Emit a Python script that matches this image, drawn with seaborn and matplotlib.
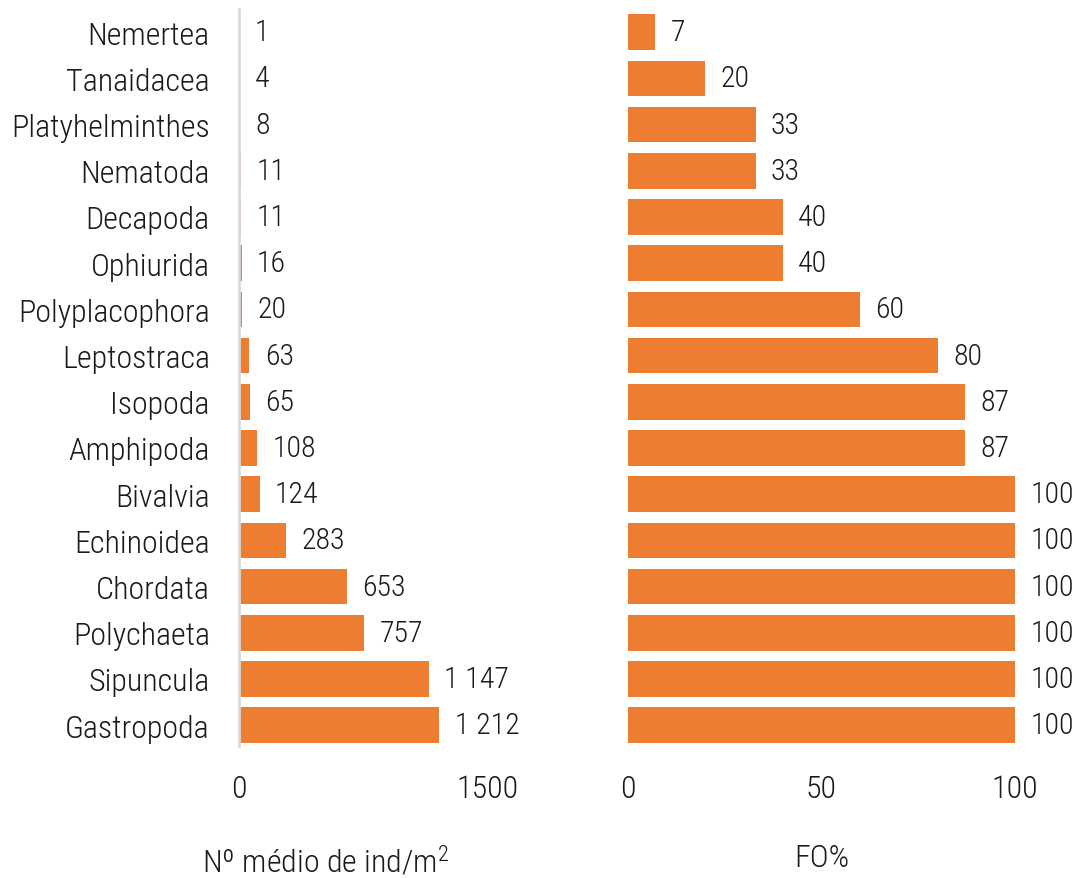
import matplotlib
matplotlib.use("Agg")
import matplotlib.pyplot as plt
import seaborn as sns
import pandas as pd

taxa = ["Nemertea", "Tanaidacea", "Platyhelminthes", "Nematoda", "Decapoda",
        "Ophiurida", "Polyplacophora", "Leptostraca", "Isopoda", "Amphipoda",
        "Bivalvia", "Echinoidea", "Chordata", "Polychaeta", "Sipuncula", "Gastropoda"]
densidade = [1, 4, 8, 11, 11, 16, 20, 63, 65, 108, 124, 283, 653, 757, 1147, 1212]
fo = [7, 20, 33, 33, 40, 40, 60, 80, 87, 87, 100, 100, 100, 100, 100, 100]

df = pd.DataFrame({"Taxon": taxa, "Dens": densidade, "FO": fo})

sns.set_theme(style="white")
plt.rcParams["font.family"] = ["Roboto Condensed", "DejaVu Sans"]
plt.rcParams["font.weight"] = "light"
plt.rcParams["axes.labelweight"] = "light"
plt.rcParams["mathtext.fontset"] = "custom"
plt.rcParams["mathtext.rm"] = "Roboto Condensed:light"
plt.rcParams["mathtext.default"] = "rm"

cor = "#ED7D31"
texto = "#1a1a1a"
fs = 23

fig = plt.figure(figsize=(10.8, 8.79), dpi=100)
topo, base = 10, 747
ax1 = fig.add_axes([239 / 1080, 1 - base / 879, (487 - 239) / 1080, (base - topo) / 879])
ax2 = fig.add_axes([628 / 1080, 1 - base / 879, (1015 - 628) / 1080, (base - topo) / 879])

sns.barplot(data=df, x="Dens", y="Taxon", color=cor, width=0.77, ax=ax1,
            saturation=1, edgecolor="none")
sns.barplot(data=df, x="FO", y="Taxon", color=cor, width=0.77, ax=ax2,
            saturation=1, edgecolor="none")

def fmt(v):
    return f"{v:,}".replace(",", " ")

ax1.set_xlim(0, 1500)
ax2.set_xlim(0, 100)
for ax in (ax1, ax2):
    ax.set_ylim(15.45, -0.5)
    ax.set_ylabel("")
    for s in ax.spines.values():
        s.set_visible(False)
    ax.tick_params(axis="both", length=0, labelsize=fs, colors=texto, pad=20)

ax1.spines["left"].set_visible(True)
ax1.spines["left"].set_color("#d9d9d9")
ax1.spines["left"].set_linewidth(2)
ax1.set_xticks([0, 1500])
ax1.set_xticklabels(["0", "1500"])
ax1.tick_params(axis="y", pad=21)
ax2.set_xticks([0, 50, 100])
ax2.set_yticks([])

ax1.bar_label(ax1.containers[0], labels=[fmt(v) for v in densidade],
              padding=11, fontsize=21.5, color=texto)
ax2.bar_label(ax2.containers[0], labels=[fmt(v) for v in fo],
              padding=11, fontsize=21.5, color=texto)

ax1.set_xlabel("Nº médio de ind/m$^2$", fontsize=fs, color=texto, fontweight="light")
ax2.set_xlabel("FO%", fontsize=fs, color=texto, fontweight="light")
ax1.xaxis.set_label_coords(0.35, -0.132)
ax2.xaxis.set_label_coords(0.5, -0.132)

fig.savefig("out.png", dpi=100)
